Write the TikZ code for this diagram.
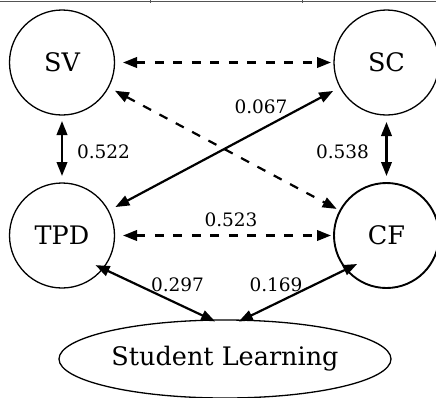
\documentclass[tikz,border=0pt]{standalone}
\usepackage{fontspec}
\setmainfont{DejaVu Serif}
\usetikzlibrary{arrows.meta,shapes.geometric}

\tikzset{
  construct/.style={circle, draw, line width=1.3pt, minimum size=105pt,
    inner sep=0pt, outer sep=0pt, font=\fontsize{25.5}{30}\selectfont},
  outcome/.style={ellipse, draw, line width=1.3pt, minimum width=332pt,
    minimum height=78pt, inner sep=0pt, outer sep=0pt,
    font=\fontsize{25.5}{30}\selectfont},
  corr/.style={line width=2.2pt, <->},
  corrdash/.style={corr, dash pattern=on 9pt off 9.5pt},
  coef/.style={font=\fontsize{18.5}{22}\selectfont, inner sep=0pt},
  rule/.style={draw=black!67, line width=1.4pt}
}

\begin{document}
\begin{tikzpicture}[x=1pt, y=-1pt, >={Triangle[length=14pt,width=10.5pt]}]
  \useasboundingbox (0,0) rectangle (436,397);
  \clip (0,0) rectangle (436,397);

  % table rule above the diagram
  \draw[rule] (0,1.5) -- (436,1.5);
  \draw[draw=black!67, line width=1pt] (150,0) -- (150,2.5);
  \draw[draw=black!67, line width=1pt] (302,0) -- (302,2.5);

  % constructs
  \node[construct] (SV)  at (62,62.5)    {SV};
  \node[construct] (SC)  at (386.5,62.5) {SC};
  \node[construct] (TPD) at (62,235.5)   {TPD};
  \node[construct, line width=1.9pt] (CF) at (386.5,235.5) {CF};
  \node[outcome] (SL) at (225,359) {Student Learning};

  % correlations between constructs
  \draw[corrdash, shorten <=8.5pt, shorten >=3pt] (SV) -- (SC);
  \draw[corrdash, shorten <=8.5pt, shorten >=3pt] (TPD) -- (CF);
  \draw[corrdash, shorten <=7.5pt, shorten >=4pt] (SV) -- (CF);
  \draw[corr, shorten <=8pt, shorten >=8pt] (SC) -- (TPD);
  \draw[corr, shorten <=6pt, shorten >=7pt] (SV) -- (TPD);
  \draw[corr, shorten <=7pt, shorten >=7pt] (SC) -- (CF);

  % paths to student learning
  \draw[corr, shorten <=-8pt, shorten >=-3pt] (TPD.-39) -- (SL.108);
  \draw[corr, shorten <=-12pt, shorten >=-3pt] (CF.-140) -- (SL.67);

  % coefficients
  \node[coef] (c1) at (261,107)   {0.067};
  \node[coef] (c2) at (103.5,152) {0.522};
  \node[coef] (c3) at (342.5,152) {0.538};
  \node[coef] (c4) at (231,220)   {0.523};
  \node[coef] (c5) at (177.5,285) {0.297};
  \node[coef] (c6) at (276,285)   {0.169};
\end{tikzpicture}
\end{document}
